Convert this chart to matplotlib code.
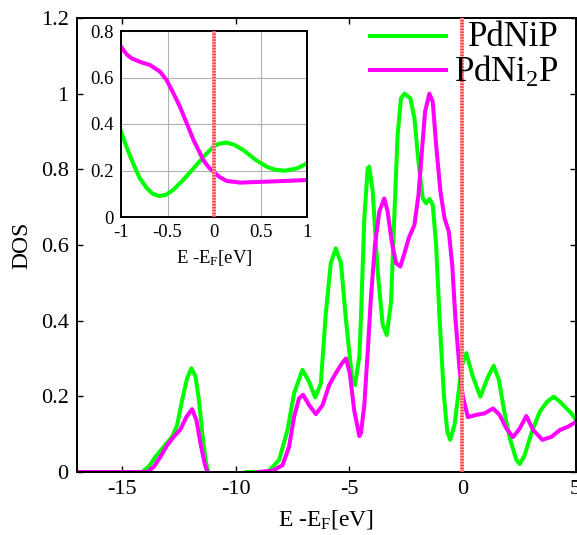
import numpy as np
import matplotlib.pyplot as plt

plt.rcParams['font.family'] = ['Liberation Serif', 'DejaVu Serif']
plt.rcParams['mathtext.default'] = 'regular'

nan = np.nan

# total DOS, main panel (energy relative to E_F in eV)
e_pdnip = [-17, -14.13, -13.84, -13.54, -13.17, -12.8, -12.58, -12.36, -12.14, -11.95,
           -11.77, -11.62, -11.47, -11.33, -11.21, nan,
           -9.5, -8.8, -8.53, -8.08, -7.71, -7.42, -7.05, -6.76, -6.49, -6.24, -6.02,
           -5.80, -5.58, -5.35, -5.13, -4.87, -4.73, -4.54, -4.47, -4.32, -4.17, -4.10,
           -3.95, -3.73, -3.51, -3.33, -3.14, -3.0, -2.85, -2.70, -2.55, -2.29, -2.11,
           -1.93, -1.74, -1.59, -1.45, -1.30, -1.15, -1.0, -0.81, -0.66, -0.53, -0.34,
           -0.12, 0.0, 0.18, 0.47, 0.80, 1.14, 1.39, 1.62, 1.87, 2.12, 2.39, 2.54, 2.76,
           3.05, 3.42, 3.75, 4.04, 4.31, 4.60, 4.82, 5.04]
dos_pdnip = [0, 0, 0.014, 0.04, 0.067, 0.093, 0.124, 0.19, 0.248, 0.274,
             0.252, 0.19, 0.102, 0.032, 0, nan,
             0, 0, 0.003, 0.032, 0.111, 0.208, 0.27, 0.239, 0.197, 0.234, 0.419,
             0.552, 0.591, 0.552, 0.402, 0.252, 0.23, 0.305, 0.406, 0.671, 0.803, 0.807,
             0.741, 0.529, 0.389, 0.362, 0.45, 0.671, 0.891, 0.988, 1.0, 0.988, 0.935,
             0.82, 0.723, 0.71, 0.722, 0.706, 0.60, 0.406, 0.204, 0.107, 0.085, 0.124,
             0.23, 0.285, 0.314, 0.252, 0.199, 0.252, 0.281, 0.243, 0.155, 0.085, 0.032,
             0.021, 0.045, 0.102, 0.159, 0.186, 0.199, 0.186, 0.168, 0.155, 0.136]

e_pdni2p = [-17, -13.9, -13.61, -13.32, -13.02, -12.73, -12.43, -12.17, -11.92, -11.73,
            -11.55, -11.37, -11.25, nan,
            -9.0, -8.38, -7.93, -7.64, -7.42, -7.20, -7.02, -6.76, -6.46, -6.16, -5.87,
            -5.58, -5.31, -5.13, -4.96, -4.77, -4.54, -4.47, -4.32, -4.17, -4.03, -3.85,
            -3.66, -3.44, -3.29, -3.11, -2.92, -2.73, -2.55, -2.36, -2.11, -1.93, -1.78,
            -1.64, -1.45, -1.30, -1.15, -0.96, -0.78, -0.59, -0.44, -0.30, -0.12, 0.03,
            0.25, 0.62, 0.99, 1.36, 1.65, 1.95, 2.24, 2.54, 2.83, 3.13, 3.54, 3.94, 4.31,
            4.68, 5.04]
dos_pdni2p = [0, 0, 0.014, 0.04, 0.071, 0.093, 0.113, 0.146, 0.166, 0.137,
              0.076, 0.023, 0, nan,
              0, 0.003, 0.018, 0.067, 0.146, 0.195, 0.204, 0.177, 0.153, 0.177, 0.23,
              0.261, 0.287, 0.30, 0.261, 0.164, 0.095, 0.102, 0.177, 0.318, 0.459, 0.60,
              0.688, 0.723, 0.688, 0.609, 0.552, 0.543, 0.578, 0.618, 0.653, 0.732, 0.847,
              0.952, 1.0, 0.979, 0.864, 0.741, 0.671, 0.635, 0.547, 0.406, 0.274, 0.199,
              0.145, 0.151, 0.155, 0.168, 0.151, 0.115, 0.092, 0.115, 0.148, 0.111, 0.085,
              0.093, 0.111, 0.12, 0.133]

# zoom around the Fermi level
e_in_pdnip = [-1, -0.93, -0.87, -0.80, -0.72, -0.66, -0.59, -0.52, -0.44, -0.33, -0.22,
              -0.11, -0.008, 0.05, 0.136, 0.22, 0.315, 0.45, 0.567, 0.66, 0.76, 0.9, 1.0]
dos_in_pdnip = [0.367, 0.29, 0.231, 0.168, 0.123, 0.10, 0.09, 0.095, 0.116, 0.16, 0.209,
                0.26, 0.302, 0.315, 0.32, 0.31, 0.288, 0.245, 0.216, 0.203, 0.199, 0.21,
                0.231]
e_in_pdni2p = [-1, -0.94, -0.885, -0.78, -0.69, -0.58, -0.51, -0.44, -0.366, -0.29, -0.22,
               -0.115, -0.06, -0.008, 0.06, 0.136, 0.28, 0.57, 1.0]
dos_in_pdni2p = [0.732, 0.70, 0.682, 0.665, 0.654, 0.625, 0.589, 0.535, 0.474, 0.40,
                 0.331, 0.245, 0.215, 0.195, 0.172, 0.155, 0.148, 0.152, 0.159]

e_fermi = 0.0
labels = ['PdNiP', 'PdNi$_2$P']
xticks = [-15, -10, -5, 0, 5]
yticks = [0, 0.2, 0.4, 0.6, 0.8, 1, 1.2]
ytick_labels = ['0', '0.2', '0.4', '0.6', '0.8', '1', '1.2']
in_xticks = [-1, -0.5, 0, 0.5, 1]
in_xtick_labels = ['-1', '-0.5', '0', '0.5', '1']
in_yticks = [0, 0.2, 0.4, 0.6, 0.8]
in_ytick_labels = ['0', '0.2', '0.4', '0.6', '0.8']

green = '#00ff00'
magenta = '#ff00ff'


def fermi_line(a):
    # light band with a dense red dotted line on top
    a.axvline(e_fermi, color='#ffb0b0', lw=2.6, zorder=3)
    a.axvline(e_fermi, color='#ff3c3c', lw=2.6, ls=(0, (0.4, 0.4)), zorder=3)


fig = plt.figure(figsize=(5.77, 5.35), dpi=100)
ax = fig.add_axes([77 / 577, 63 / 535, 498.5 / 577, 454 / 535])

ax.plot(e_pdnip, dos_pdnip, color=green, lw=2.9)
ax.plot(e_pdni2p, dos_pdni2p, color=magenta, lw=2.9)
fermi_line(ax)

ax.set_xlim(-17, 5)
ax.set_ylim(0, 1.2)
ax.set_xticks(xticks)
ax.set_xticklabels([str(t) for t in xticks])
ax.set_yticks(yticks)
ax.set_yticklabels(ytick_labels)
ax.tick_params(direction='in', top=True, right=True, length=4, width=1,
               labelsize=16, pad=6)
for s in ax.spines.values():
    s.set_linewidth(1.4)
ax.set_xlabel('E -E$_F$[eV]', fontsize=17, labelpad=6)
ax.set_ylabel('DOS', fontsize=17, labelpad=6)

# key drawn by hand so the text is right-aligned
key_y = [0.960, 0.885]
for y, c, lab in zip(key_y, [green, magenta], labels):
    ax.plot([0.588, 0.741], [y, y], color=c, lw=2.9, transform=ax.transAxes,
            clip_on=False)
    ax.text(0.966, y - 0.004, lab, transform=ax.transAxes, ha='right', va='center',
            fontsize=25)

# inset
axi = fig.add_axes([121 / 577, 318 / 535, 186 / 577, 186 / 535])
axi.plot(e_in_pdnip, dos_in_pdnip, color=green, lw=2.9)
axi.plot(e_in_pdni2p, dos_in_pdni2p, color=magenta, lw=2.9)
fermi_line(axi)
axi.set_xlim(-1, 1)
axi.set_ylim(0, 0.8)
axi.set_xticks(in_xticks)
axi.set_xticklabels(in_xtick_labels)
axi.set_yticks(in_yticks)
axi.set_yticklabels(in_ytick_labels)
axi.grid(True, color='#b0b0b0', lw=0.8)
axi.set_axisbelow(True)
axi.tick_params(direction='in', length=0, labelsize=13.5, pad=5)
for s in axi.spines.values():
    s.set_linewidth(1.4)
axi.set_xlabel('E -E$_F$[eV]', fontsize=13.5, labelpad=5)

fig.savefig('out.png', dpi=100)
